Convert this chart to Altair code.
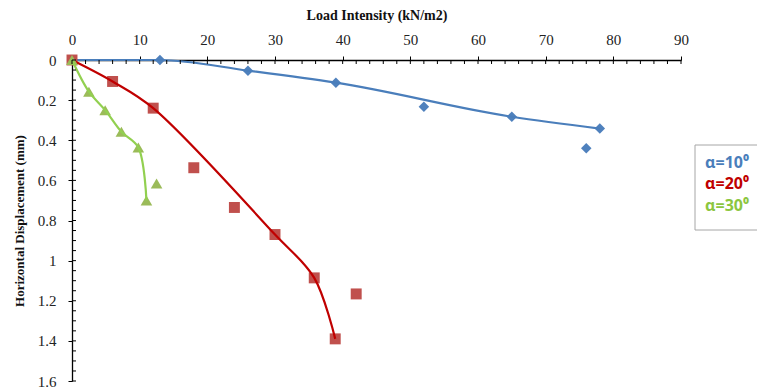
import altair as alt
import pandas as pd

# ---- measured points (markers) ----
load_10 = [0, 13, 26, 39, 52, 65, 76, 78]
disp_10 = [0, 0.0, 0.053, 0.113, 0.233, 0.283, 0.44, 0.342]
load_20 = [0, 6, 12, 18, 24, 30, 35.8, 42, 38.9]
disp_20 = [0, 0.107, 0.24, 0.537, 0.735, 0.87, 1.086, 1.166, 1.39]
load_30 = [0, 2.5, 4.9, 7.3, 9.8, 12.5, 11.0]
disp_30 = [0, 0.158, 0.25, 0.358, 0.436, 0.616, 0.70]

# ---- smoothed trend-line anchors ----
line_load_10 = [0, 13, 26, 39, 65, 78]
line_disp_10 = [0, 0.0, 0.053, 0.113, 0.283, 0.342]
line_load_20 = [0, 6, 12, 30, 35.8, 38.9]
line_disp_20 = [0, 0.107, 0.24, 0.87, 1.086, 1.39]
line_load_30 = [0, 2.5, 4.9, 7.3, 9.8, 11.0]
line_disp_30 = [0, 0.158, 0.25, 0.358, 0.436, 0.70]

x_ticks = [0, 10, 20, 30, 40, 50, 60, 70, 80, 90]
y_ticks = [0, 0.2, 0.4, 0.6, 0.8, 1.0, 1.2, 1.4, 1.6]
x_minor = [i * 2 for i in range(46)]
y_minor = [round(i * 0.05, 2) for i in range(33)]

legend_labels = ["α=10⁰", "α=20⁰", "α=30⁰"]
legend_colors = ["#4A7EBB", "#C00000", "#8CC63F"]

W, H = 609, 321
serif = "Liberation Serif"

xscale = alt.Scale(domain=[0, 90], nice=False, zero=False)
yscale = alt.Scale(domain=[0, 1.6], nice=False, reverse=True, zero=False)

xaxis = alt.Axis(orient="top", values=x_ticks, title="Load Intensity (kN/m2)",
                 labelFont=serif, labelFontSize=15, labelColor="#222222",
                 titleFont=serif, titleFontSize=14, titleFontWeight="bold",
                 titleColor="#111111", tickSize=4, tickColor="black",
                 domainColor="black", domainWidth=1.3, labelPadding=9,
                 titlePadding=10, grid=False, labelFlush=False)
yaxis = alt.Axis(orient="left", values=y_ticks, title="Horizontal Displacement (mm)",
                 format="~g",
                 labelFont=serif, labelFontSize=15, labelColor="#222222",
                 titleFont=serif, titleFontSize=13, titleFontWeight="bold",
                 titleColor="#111111", tickSize=4, tickColor="black",
                 domainColor="black", domainWidth=1.3, labelPadding=12,
                 titlePadding=11, grid=False, labelFlush=False)


def pts(xs, ys):
    return pd.DataFrame({"load": xs, "disp": ys})


X = alt.X("load:Q", scale=xscale, axis=xaxis)
Y = alt.Y("disp:Q", scale=yscale, axis=yaxis)


def markers(xs, ys, shape, color, size):
    return alt.Chart(pts(xs, ys)).mark_point(
        shape=shape, filled=True, color=color, size=size, opacity=1
    ).encode(x=X, y=Y)


def curve(xs, ys, color, interp):
    return alt.Chart(pts(xs, ys)).mark_line(
        color=color, strokeWidth=2.2, interpolate=interp
    ).encode(x=X, y=Y)


xminor = alt.Chart(pd.DataFrame({"load": x_minor})).mark_rule(
    color="black", strokeWidth=1
).encode(x=X, y=alt.value(0), y2=alt.value(4))

yminor = alt.Chart(pd.DataFrame({"disp": y_minor})).mark_rule(
    color="black", strokeWidth=1
).encode(y=Y, x=alt.value(0), x2=alt.value(4))

legend_box = alt.Chart(pd.DataFrame({"a": [0]})).mark_rect(
    fill="white", stroke="#A6A6A6", strokeWidth=1
).encode(x=alt.value(623), x2=alt.value(720), y=alt.value(85), y2=alt.value(170))


def legend_item(i, ypix):
    return alt.Chart(pd.DataFrame({"label": [legend_labels[i]]})).mark_text(
        align="left", baseline="middle", font="Noto Sans", fontSize=16,
        fontWeight="bold", color=legend_colors[i]
    ).encode(x=alt.value(633), y=alt.value(ypix), text="label:N")


chart = alt.layer(
    markers(load_10, disp_10, "diamond", "#4F81BD", 110),
    curve(line_load_10, line_disp_10, "#4A7EBB", "monotone"),
    markers(load_20, disp_20, "square", "#C0504D", 120),
    curve(line_load_20, line_disp_20, "#C00000", "catmull-rom"),
    markers(load_30, disp_30, "triangle-up", "#9BBB59", 135),
    curve(line_load_30, line_disp_30, "#92D050", "catmull-rom"),
    xminor, yminor,
    legend_box,
    legend_item(0, 103), legend_item(1, 124), legend_item(2, 146),
).properties(
    width=W, height=H,
    autosize=alt.AutoSizeParams(type="none"),
    padding={"left": 64, "top": 52, "right": 76, "bottom": 7},
).configure_view(stroke=None)

chart.save("out.html", embed_options={"renderer": "svg", "actions": False})
